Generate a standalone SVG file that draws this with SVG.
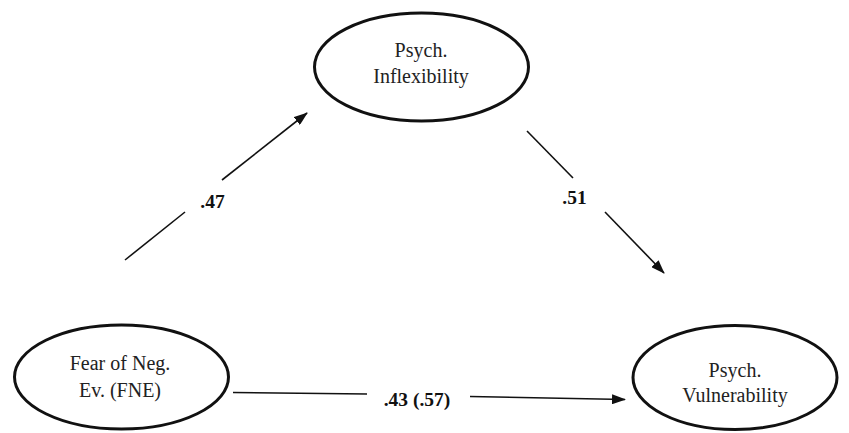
<svg xmlns="http://www.w3.org/2000/svg" width="849" height="433" viewBox="0 0 849 433">
<style>
.node{fill:#fff;stroke:#111;stroke-width:3}
.nt{font-family:"Liberation Serif","Times New Roman",serif;font-size:20px;fill:#222;text-anchor:middle}
.lbl{font-family:"Liberation Serif","Times New Roman",serif;font-size:19.5px;font-weight:bold;fill:#111;text-anchor:middle}
.edge{stroke:#111;stroke-width:1.6;fill:none}
</style>
<defs>
<marker id="ah" viewBox="0 0 14 10" refX="13" refY="5" markerWidth="14" markerHeight="10" markerUnits="userSpaceOnUse" orient="auto">
<path d="M0,0 L14,5 L0,10 Z" fill="#111"/>
</marker>
</defs>
<rect width="849" height="433" fill="#fff"/>
<g id="connectors">
<line class="edge" x1="125" y1="260" x2="185" y2="212"/>
<line class="edge" x1="222" y1="180" x2="307" y2="113" marker-end="url(#ah)"/>
<line class="edge" x1="527" y1="131" x2="573" y2="178"/>
<line class="edge" x1="605" y1="212" x2="664" y2="273" marker-end="url(#ah)"/>
<line class="edge" x1="233" y1="392.5" x2="367" y2="394"/>
<line class="edge" x1="470" y1="396.5" x2="625" y2="399.5" marker-end="url(#ah)"/>
<text class="lbl" x="212.5" y="208">.47</text>
<text class="lbl" x="574.5" y="204">.51</text>
<text class="lbl" x="417" y="406">.43 (.57)</text>
</g>
<g id="node-inflexibility">
<ellipse class="node" cx="421.5" cy="67" rx="107" ry="54"/>
<text class="nt" x="421" y="57">Psych.</text>
<text class="nt" x="421" y="83">Inflexibility</text>
</g>
<g id="node-fne">
<ellipse class="node" cx="121.5" cy="377" rx="107" ry="52"/>
<text class="nt" x="120" y="370">Fear of Neg.</text>
<text class="nt" x="120" y="397">Ev. (FNE)</text>
</g>
<g id="node-vulnerability">
<ellipse class="node" cx="735" cy="377.5" rx="102" ry="52"/>
<text class="nt" x="735" y="377">Psych.</text>
<text class="nt" x="735" y="402">Vulnerability</text>
</g>
</svg>
